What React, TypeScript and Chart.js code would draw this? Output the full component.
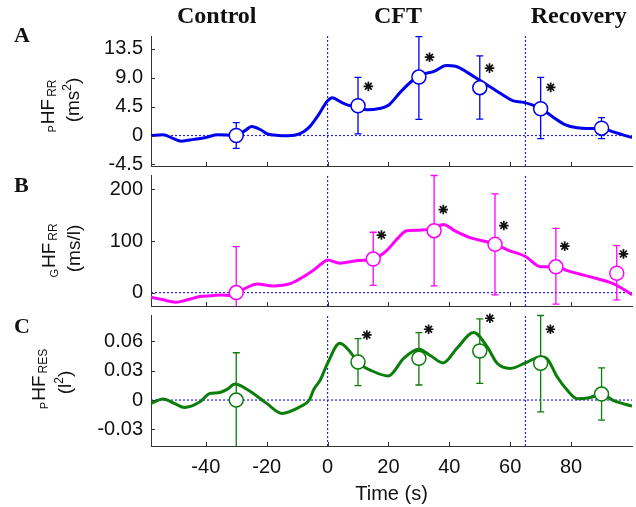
import React, { useEffect, useRef } from "react";
import { Chart, registerables } from "chart.js";

Chart.register(...registerables);

// ---------- shared axis data ----------
const X_MIN = -58;
const X_MAX = 100;
const xTickValues = [-40, -20, 0, 20, 40, 60, 80];
const phaseBoundaries = [0, 65];
const phaseLabels = ["Control", "CFT", "Recovery"];
const phaseLabelTimes = [-36.4, 23.1, 82.5];
const xAxisTitle = "Time (s)";

// ---------- panel A : pHF_RR ----------
const curveTimeA = [-58, -54, -51, -48, -44, -40, -36, -32, -30, -27, -25, -22, -20, -16, -13, -9, -6, -3, 0, 1.5, 4, 7, 10, 13, 17, 20, 24, 28, 31, 35, 39, 42, 46, 50, 54, 57, 61, 64, 67, 70, 74, 78, 82, 86, 90, 94, 97, 100];
const curveValA = [0, 0.1, -0.4, -0.88, -0.6, -0.3, 0.1, 0.05, 0, 0.8, 1.4, 0.9, 0.3, 0, -0.05, 0.3, 1.3, 3.2, 5.4, 5.9, 5.3, 4.7, 4.5, 4.0, 4.2, 4.7, 6.8, 8.6, 9.5, 10.0, 10.9, 10.8, 9.8, 8.6, 7.4, 6.5, 5.4, 5.2, 4.8, 4.2, 2.9, 1.7, 1.2, 1.1, 1.05, 0.55, 0.1, -0.3];
const markTimeA = [-30, 10, 30, 50, 70, 90];
const markValA = [0, 4.64, 9.1, 7.45, 4.17, 1.14];
const errLowA = [-2, 0.26, 2.5, 2.55, -0.5, -0.5];
const errHighA = [2, 9.06, 15.4, 12.4, 9.06, 2.77];
const starTimeA = [13.4, 33.5, 53.2, 73.3];
const starValA = [7.66, 12.2, 10.5, 7.5];
const yTicksA = [-4.5, 0, 4.5, 9, 13.5];

// ---------- panel B : GHF_RR ----------
const curveTimeB = [-58, -54, -50, -46, -42, -38, -35, -32, -30, -27, -23, -18, -12, -7, -4.5, -2, 0, 4, 10, 15, 19.5, 23, 26, 30, 35, 38, 42, 47, 52, 55, 59, 65, 70, 75, 79, 86, 94, 100];
const curveValB = [-9, -14, -18.6, -14, -7.7, -6, -4.5, -6, -2, 8.4, 16.8, 13, 18, 34, 44, 56, 63, 57, 62, 65, 82, 105, 120, 121, 125, 132, 119, 106, 99, 94, 83, 70, 50, 50, 42, 31, 17, -4];
const markTimeB = [-30, 15, 35, 55, 75, 95];
const markValB = [0, 65, 120, 93.5, 50, 37.5];
const errLowB = [-90, 14, 13, -4.5, -22.5, -14];
const errHighB = [89, 117, 227, 191.5, 124.5, 91];
const starTimeB = [17.7, 38, 57.9, 77.9, 97.2];
const starValB = [111.6, 161, 130, 90, 75];
const yTicksB = [0, 100, 200];

// ---------- panel C : pHF_RES ----------
const curveTimeC = [-58, -54, -50, -47, -42, -38.6, -36, -33, -30.4, -26.5, -20, -15, -9, -6, -4.5, -2.4, 0, 4, 7.5, 10, 14, 20, 25, 30, 34, 38, 42.5, 48, 52.4, 55.7, 60, 65, 70, 72, 75.4, 78.7, 82, 86, 90, 94, 100];
const curveValC = [-0.0034, 0.001, -0.004, -0.0075, -0.002, 0.0068, 0.0075, 0.011, 0.0164, 0.011, -0.0034, -0.0137, -0.0068, 0, 0.011, 0.0205, 0.0376, 0.058, 0.049, 0.038, 0.0307, 0.0246, 0.0427, 0.052, 0.045, 0.038, 0.053, 0.069, 0.0546, 0.0376, 0.0324, 0.038, 0.0444, 0.0427, 0.0239, 0.0102, 0.0014, 0.0024, 0.0061, -0.0007, -0.0061];
const markTimeC = [-30, 10, 30, 50, 70, 90];
const markValC = [0, 0.0389, 0.0427, 0.0502, 0.0376, 0.0061];
const errLowC = [-0.048, 0.0147, 0.0154, 0.017, -0.012, -0.0205];
const errHighC = [0.0484, 0.0628, 0.069, 0.083, 0.0865, 0.033];
const starTimeC = [12.9, 33.2, 53.3, 73.2];
const starValC = [0.0666, 0.0724, 0.0837, 0.0724];
const yTicksC = [-0.03, 0, 0.03, 0.06];

// ---------- styling ----------
const SANS = '"Liberation Sans", Arial, Helvetica, sans-serif';
const SERIF = '"Liberation Serif", "Times New Roman", serif';
const AXIS_COLOR = "#333333";
const TEXT_COLOR = "#111111";
const REF_COLOR = "#2020ff";

type Seg = { t: string; size: number; shift?: number; gap?: number };

type Panel = {
  key: string;
  top: number;
  height: number;
  padTop: number;
  padBottom: number;
  xAxisHeight: number;
  showX: boolean;
  yMin: number;
  yMax: number;
  yTicks: number[];
  fmt: (v: number) => string;
  color: string;
  curveT: number[];
  curveV: number[];
  markT: number[];
  markV: number[];
  errLo: number[];
  errHi: number[];
  starT: number[];
  starV: number[];
  letter: string;
  letterBase: number;
  line1: Seg[];
  line2: Seg[];
  l1x: number;
  l1y: number;
  l2x: number;
  l2y: number;
  titles: boolean;
};

const panels: Panel[] = [
  {
    key: "A", top: 0, height: 170, padTop: 36, padBottom: 4, xAxisHeight: 0, showX: false,
    yMin: -4.75, yMax: 15.5, yTicks: yTicksA,
    fmt: (v) => (v === 0 ? "0" : v.toFixed(1)),
    color: "#0000ee",
    curveT: curveTimeA, curveV: curveValA, markT: markTimeA, markV: markValA,
    errLo: errLowA, errHi: errHighA, starT: starTimeA, starV: starValA,
    letter: "A", letterBase: 41.7,
    line1: [{ t: "P", size: 11, shift: 2.5, gap: 1 }, { t: "HF", size: 19, gap: 2 }, { t: "RR", size: 12, shift: 2 }],
    line2: [{ t: "(ms", size: 19 }, { t: "2", size: 12, shift: -8 }, { t: ")", size: 19 }],
    l1x: 53.5, l1y: 106, l2x: 79, l2y: 100, titles: true,
  },
  {
    key: "B", top: 170, height: 140, padTop: 5, padBottom: 4, xAxisHeight: 0, showX: false,
    yMin: -26, yMax: 228, yTicks: yTicksB,
    fmt: (v) => String(v),
    color: "#ff00ff",
    curveT: curveTimeB, curveV: curveValB, markT: markTimeB, markV: markValB,
    errLo: errLowB, errHi: errHighB, starT: starTimeB, starV: starValB,
    letter: "B", letterBase: 21.7,
    line1: [{ t: "G", size: 11, shift: 2.5, gap: 1 }, { t: "HF", size: 19, gap: 2 }, { t: "RR", size: 12, shift: 2 }],
    line2: [{ t: "(ms/l)", size: 19 }],
    l1x: 55, l1y: 80.5, l2x: 80, l2y: 78.5, titles: false,
  },
  {
    key: "C", top: 310, height: 197, padTop: 5, padBottom: 0, xAxisHeight: 61, showX: true,
    yMin: -0.047, yMax: 0.087, yTicks: yTicksC,
    fmt: (v) => (v === 0 ? "0" : v.toFixed(2)),
    color: "#0a7d0a",
    curveT: curveTimeC, curveV: curveValC, markT: markTimeC, markV: markValC,
    errLo: errLowC, errHi: errHighC, starT: starTimeC, starV: starValC,
    letter: "C", letterBase: 23,
    line1: [{ t: "P", size: 11, shift: 2.5, gap: 1 }, { t: "HF", size: 19, gap: 2 }, { t: "RES", size: 12, shift: 2 }],
    line2: [{ t: "(l", size: 19 }, { t: "2", size: 12, shift: -8 }, { t: ")", size: 19 }],
    l1x: 45, l1y: 69, l2x: 71, l2y: 72.5, titles: false,
  },
];

function drawRotated(ctx: CanvasRenderingContext2D, segs: Seg[], bx: number, cy: number) {
  ctx.save();
  ctx.translate(bx, cy);
  ctx.rotate(-Math.PI / 2);
  ctx.fillStyle = TEXT_COLOR;
  ctx.textAlign = "left";
  ctx.textBaseline = "alphabetic";
  let total = 0;
  const widths = segs.map((s) => {
    ctx.font = `${s.size}px ${SANS}`;
    const w = ctx.measureText(s.t).width;
    total += w + (s.gap || 0);
    return w;
  });
  let u = -total / 2;
  segs.forEach((s, i) => {
    ctx.font = `${s.size}px ${SANS}`;
    ctx.fillText(s.t, u, s.shift || 0);
    u += widths[i] + (s.gap || 0);
  });
  ctx.restore();
}

function zeroPadding(axis: any) {
  axis.paddingTop = 0;
  axis.paddingBottom = 0;
  axis.paddingLeft = 0;
  axis.paddingRight = 0;
}

function makeChart(canvas: HTMLCanvasElement, p: Panel) {
  const markers = p.markT.map((t, i) => ({ x: t, y: p.markV[i] }));
  const curve = p.curveT.map((t, i) => ({ x: t, y: p.curveV[i] }));
  const zeroLine = [{ x: X_MIN, y: 0 }, { x: X_MAX, y: 0 }];
  const vLines = phaseBoundaries.map((b) => [{ x: b, y: p.yMin }, { x: b, y: p.yMax }]);

  const decor = {
    id: "decor" + p.key,
    afterDatasetDraw(chart: any, args: any) {
      if (args.index !== 1) return;
      const { ctx, chartArea: ca, scales } = chart;
      const xs = scales.x;
      const ys = scales.y;
      ctx.save();
      ctx.beginPath();
      ctx.rect(ca.left, ca.top - 1, ca.right - ca.left, ca.bottom - ca.top + 1);
      ctx.clip();
      ctx.strokeStyle = p.color;
      ctx.lineWidth = 1.3;
      p.markT.forEach((t, i) => {
        const px = xs.getPixelForValue(t);
        const y1 = ys.getPixelForValue(p.errLo[i]);
        const y2 = ys.getPixelForValue(p.errHi[i]);
        ctx.beginPath();
        ctx.moveTo(px, y1);
        ctx.lineTo(px, y2);
        ctx.moveTo(px - 3.5, y1);
        ctx.lineTo(px + 3.5, y1);
        ctx.moveTo(px - 3.5, y2);
        ctx.lineTo(px + 3.5, y2);
        ctx.stroke();
      });
      ctx.restore();
    },
    afterDraw(chart: any) {
      const { ctx, chartArea: ca, scales } = chart;
      const xs = scales.x;
      const ys = scales.y;
      ctx.save();
      // inward ticks
      ctx.strokeStyle = AXIS_COLOR;
      ctx.lineWidth = 1;
      ctx.beginPath();
      xTickValues.forEach((v) => {
        const px = Math.round(xs.getPixelForValue(v)) + 0.5;
        ctx.moveTo(px, ca.bottom);
        ctx.lineTo(px, ca.bottom - 4);
      });
      p.yTicks.forEach((v) => {
        const py = Math.round(ys.getPixelForValue(v)) + 0.5;
        ctx.moveTo(ca.left, py);
        ctx.lineTo(ca.left + 4, py);
      });
      ctx.stroke();
      // significance asterisks
      ctx.strokeStyle = TEXT_COLOR;
      ctx.lineWidth = 1.7;
      p.starT.forEach((t, i) => {
        const cx = xs.getPixelForValue(t);
        const cy = ys.getPixelForValue(p.starV[i]);
        ctx.beginPath();
        for (let k = 0; k < 4; k++) {
          const a = (k * Math.PI) / 4;
          ctx.moveTo(cx - 4.8 * Math.sin(a), cy - 4.8 * Math.cos(a));
          ctx.lineTo(cx + 4.8 * Math.sin(a), cy + 4.8 * Math.cos(a));
        }
        ctx.stroke();
      });
      // panel letter
      ctx.fillStyle = TEXT_COLOR;
      ctx.textBaseline = "alphabetic";
      ctx.textAlign = "left";
      ctx.font = `bold 22px ${SERIF}`;
      ctx.fillText(p.letter, 14, p.letterBase);
      // phase titles
      if (p.titles) {
        ctx.font = `bold 24px ${SERIF}`;
        ctx.textAlign = "center";
        phaseLabels.forEach((lab, i) => {
          ctx.fillText(lab, xs.getPixelForValue(phaseLabelTimes[i]), 22.7);
        });
      }
      ctx.restore();
      // rotated y-axis labels
      drawRotated(ctx, p.line1, p.l1x, p.l1y);
      drawRotated(ctx, p.line2, p.l2x, p.l2y);
    },
  };

  return new Chart(canvas, {
    type: "line",
    data: {
      datasets: [
        {
          data: markers,
          showLine: false,
          pointRadius: 7,
          pointBackgroundColor: "#ffffff",
          pointBorderColor: p.color,
          pointBorderWidth: 1.5,
        },
        {
          data: curve,
          borderColor: p.color,
          borderWidth: 3,
          pointRadius: 0,
          cubicInterpolationMode: "monotone",
          fill: false,
        },
        {
          data: zeroLine,
          borderColor: REF_COLOR,
          borderWidth: 1.2,
          borderDash: [2, 2],
          pointRadius: 0,
          tension: 0,
        },
        ...vLines.map((d) => ({
          data: d,
          borderColor: REF_COLOR,
          borderWidth: 1.2,
          borderDash: [2, 2],
          pointRadius: 0,
          tension: 0,
        })),
      ],
    },
    options: {
      responsive: false,
      animation: false,
      events: [],
      layout: { autoPadding: false, padding: { top: p.padTop, bottom: p.padBottom, left: 0, right: 4 } },
      plugins: { legend: { display: false }, tooltip: { enabled: false } },
      scales: {
        x: {
          type: "linear",
          min: X_MIN,
          max: X_MAX,
          grid: { display: false, drawTicks: false },
          border: { display: true, color: AXIS_COLOR, width: 1 },
          afterBuildTicks: (axis: any) => {
            axis.ticks = xTickValues.map((v) => ({ value: v }));
          },
          afterFit: (axis: any) => {
            axis.height = p.xAxisHeight;
            zeroPadding(axis);
          },
          ticks: {
            display: p.showX,
            autoSkip: false,
            maxRotation: 0,
            padding: 9,
            color: TEXT_COLOR,
            font: { family: SANS, size: 20 },
            callback: (v: any) => String(v),
          },
          title: {
            display: p.showX,
            text: xAxisTitle,
            color: TEXT_COLOR,
            font: { family: SANS, size: 20 },
            padding: { top: 0, bottom: 1 },
          },
        },
        y: {
          type: "linear",
          min: p.yMin,
          max: p.yMax,
          grid: { display: false, drawTicks: false },
          border: { display: true, color: AXIS_COLOR, width: 1 },
          afterBuildTicks: (axis: any) => {
            axis.ticks = p.yTicks.map((v) => ({ value: v }));
          },
          afterFit: (axis: any) => {
            axis.width = 151;
            zeroPadding(axis);
          },
          ticks: {
            padding: 8,
            color: TEXT_COLOR,
            font: { family: SANS, size: 20 },
            callback: (v: any) => p.fmt(Number(v)),
          },
        },
      },
    },
    plugins: [decor],
  } as any);
}

export default function App() {
  const refA = useRef<HTMLCanvasElement>(null);
  const refB = useRef<HTMLCanvasElement>(null);
  const refC = useRef<HTMLCanvasElement>(null);
  const refs = [refA, refB, refC];

  useEffect(() => {
    const charts = panels.map((p, i) => makeChart(refs[i].current as HTMLCanvasElement, p));
    return () => charts.forEach((c) => c.destroy());
  }, []);

  return (
    <div style={{ position: "fixed", left: 0, top: 0, width: 636, height: 507, background: "#ffffff", overflow: "hidden" }}>
      {panels.map((p, i) => (
        <canvas
          key={p.key}
          ref={refs[i]}
          width={636}
          height={p.height}
          style={{ position: "absolute", left: 0, top: p.top, display: "block", width: 636, height: p.height }}
        />
      ))}
    </div>
  );
}
